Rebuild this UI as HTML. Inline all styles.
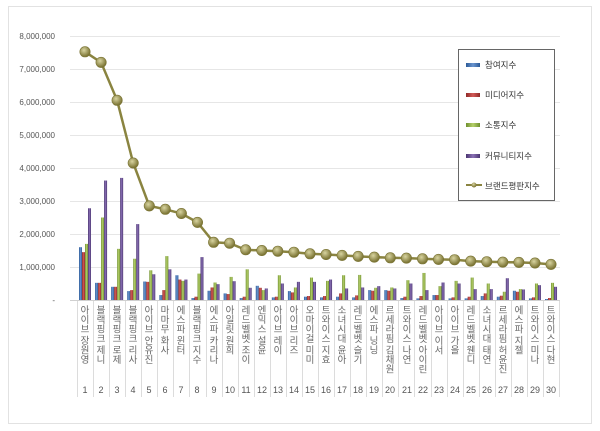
<!DOCTYPE html>
<html><head><meta charset="utf-8"><style>
body{margin:0;width:600px;height:431px;background:#fff;overflow:hidden;position:relative;font-family:"Liberation Sans","Noto Sans CJK KR",sans-serif}
.frame{position:absolute;left:8px;top:6px;width:584px;height:418px;border:1px solid #e2e2e2;box-sizing:border-box}
.lab{position:absolute;top:305px;writing-mode:vertical-rl;font-size:9.5px;color:#666;line-height:16px;width:16px;text-align:left;font-family:"Noto Sans CJK KR",sans-serif;white-space:nowrap}
</style></head><body>
<div class="frame"></div>
<svg id="s" width="600" height="431" style="position:absolute;left:0;top:0" xmlns="http://www.w3.org/2000/svg">
<defs>
<linearGradient id="gb" x1="0" x2="1"><stop offset="0" stop-color="#2c5a97"/><stop offset=".5" stop-color="#6a95cf"/><stop offset="1" stop-color="#2c5a97"/></linearGradient>
<linearGradient id="gr" x1="0" x2="1"><stop offset="0" stop-color="#8f2a28"/><stop offset=".5" stop-color="#d25a57"/><stop offset="1" stop-color="#8f2a28"/></linearGradient>
<linearGradient id="gg" x1="0" x2="1"><stop offset="0" stop-color="#6f8f2e"/><stop offset=".5" stop-color="#b5d06a"/><stop offset="1" stop-color="#6f8f2e"/></linearGradient>
<linearGradient id="gp" x1="0" x2="1"><stop offset="0" stop-color="#4a3570"/><stop offset=".5" stop-color="#8a70b5"/><stop offset="1" stop-color="#4a3570"/></linearGradient>
<radialGradient id="gd" cx=".4" cy=".35" r=".6"><stop offset="0" stop-color="#d8d4a0"/><stop offset="1" stop-color="#7d7636"/></radialGradient>
</defs>
<g font-size="8" fill="#555" text-anchor="end">
<text x="55" y="39">8,000,000</text>
<text x="55" y="72">7,000,000</text>
<text x="55" y="105">6,000,000</text>
<text x="55" y="138">5,000,000</text>
<text x="55" y="171">4,000,000</text>
<text x="55" y="204">3,000,000</text>
<text x="55" y="237">2,000,000</text>
<text x="55" y="270">1,000,000</text>
<text x="55" y="303">-</text>
</g>
<g stroke="#e6e6e6" stroke-width="1">
<line x1="70" x2="560" y1="36.5" y2="36.5"/><line x1="70" x2="560" y1="69.5" y2="69.5"/>
<line x1="70" x2="560" y1="102.5" y2="102.5"/><line x1="70" x2="560" y1="135.5" y2="135.5"/>
<line x1="70" x2="560" y1="168.5" y2="168.5"/><line x1="70" x2="560" y1="201.5" y2="201.5"/>
<line x1="70" x2="560" y1="234.5" y2="234.5"/><line x1="70" x2="560" y1="267.5" y2="267.5"/>
</g>
<g id="bars"></g>
<g id="seps" stroke="#dcdcdc"></g>
<g id="nums" font-size="9" fill="#555" text-anchor="middle">
<text x="85" y="393">1</text><text x="101" y="393">2</text><text x="117" y="393">3</text><text x="133" y="393">4</text><text x="149" y="393">5</text><text x="165" y="393">6</text><text x="181" y="393">7</text><text x="197" y="393">8</text><text x="214" y="393">9</text><text x="230" y="393">10</text><text x="246" y="393">11</text><text x="262" y="393">12</text><text x="278" y="393">13</text><text x="294" y="393">14</text><text x="310" y="393">15</text><text x="326" y="393">16</text><text x="342" y="393">17</text><text x="358" y="393">18</text><text x="374" y="393">19</text><text x="390" y="393">20</text><text x="407" y="393">21</text><text x="423" y="393">22</text><text x="439" y="393">23</text><text x="455" y="393">24</text><text x="471" y="393">25</text><text x="487" y="393">26</text><text x="503" y="393">27</text><text x="519" y="393">28</text><text x="535" y="393">29</text><text x="551" y="393">30</text>
</g>
<g id="line"></g>
<rect x="458.5" y="49.5" width="96" height="151" fill="#fff" stroke="#666"/>
<rect x="466" y="63" width="14" height="4" fill="url(#gb)"/>
<rect x="466" y="93" width="14" height="4" fill="url(#gr)"/>
<rect x="466" y="123" width="14" height="4" fill="url(#gg)"/>
<rect x="466" y="154" width="14" height="4" fill="url(#gp)"/>
<line x1="466" x2="482" y1="185" y2="185" stroke="#8a8440" stroke-width="2"/><circle cx="474" cy="185" r="2.5" fill="url(#gd)"/>
<g font-size="8.5" fill="#333" font-family="Noto Sans CJK KR,sans-serif">
<text x="485" y="68">참여지수</text><text x="485" y="98">미디어지수</text><text x="485" y="128">소통지수</text><text x="485" y="159">커뮤니티지수</text><text x="485" y="189">브랜드평판지수</text>
</g>
</svg>
<div class="lab" style="left:77px">아이브 장원영</div>
<div class="lab" style="left:93px">블랙핑크 제니</div>
<div class="lab" style="left:109px">블랙핑크 로제</div>
<div class="lab" style="left:125px">블랙핑크 리사</div>
<div class="lab" style="left:141px">아이브 안유진</div>
<div class="lab" style="left:157px">마마무 화사</div>
<div class="lab" style="left:173px">에스파 윈터</div>
<div class="lab" style="left:189px">블랙핑크 지수</div>
<div class="lab" style="left:206px">에스파 카리나</div>
<div class="lab" style="left:222px">아일릿 원희</div>
<div class="lab" style="left:238px">레드벨벳 조이</div>
<div class="lab" style="left:254px">엔믹스 설윤</div>
<div class="lab" style="left:270px">아이브 레이</div>
<div class="lab" style="left:286px">아이브 리즈</div>
<div class="lab" style="left:302px">오마이걸 미미</div>
<div class="lab" style="left:318px">트와이스 지효</div>
<div class="lab" style="left:334px">소녀시대 윤아</div>
<div class="lab" style="left:350px">레드벨벳 슬기</div>
<div class="lab" style="left:366px">에스파 닝닝</div>
<div class="lab" style="left:382px">르세라핌 김채원</div>
<div class="lab" style="left:399px">트와이스 나연</div>
<div class="lab" style="left:415px">레드벨벳 아이린</div>
<div class="lab" style="left:431px">아이브 이서</div>
<div class="lab" style="left:447px">아이브 가을</div>
<div class="lab" style="left:463px">레드벨벳 웬디</div>
<div class="lab" style="left:479px">소녀시대 태연</div>
<div class="lab" style="left:495px">르세라핌 허윤진</div>
<div class="lab" style="left:511px">에스파 지젤</div>
<div class="lab" style="left:527px">트와이스 미나</div>
<div class="lab" style="left:543px">트와이스 다현</div>
<script>
var d=[[1.6,1.45,1.7,2.78],[.52,.52,2.5,3.62],[.4,.4,1.55,3.7],[.27,.3,1.25,2.3],[.56,.55,.9,.78],[.15,.3,1.33,.93],[.75,.62,.58,.62],[.06,.1,.8,1.3],[.28,.38,.53,.48],[.2,.18,.7,.57],[.06,.1,.93,.37],[.43,.37,.3,.35],[.08,.1,.75,.5],[.27,.23,.38,.55],[.1,.12,.68,.55],[.08,.12,.58,.62],[.1,.2,.75,.35],[.08,.14,.76,.38],[.3,.28,.37,.42],[.3,.28,.38,.35],[.06,.1,.6,.5],[.05,.12,.82,.3],[.15,.15,.42,.53],[.05,.08,.58,.5],[.05,.1,.68,.33],[.12,.2,.5,.33],[.1,.13,.25,.66],[.28,.25,.33,.32],[.05,.08,.5,.45],[.03,.06,.52,.4]];
var L=[7.52,7.2,6.05,4.15,2.85,2.75,2.62,2.35,1.75,1.72,1.52,1.5,1.48,1.45,1.4,1.38,1.35,1.32,1.3,1.28,1.27,1.25,1.23,1.22,1.18,1.16,1.15,1.14,1.12,1.08];
var ns="http://www.w3.org/2000/svg",g=document.getElementById("bars"),sp=document.getElementById("seps"),ln=document.getElementById("line");
var f=["url(#gb)","url(#gr)","url(#gg)","url(#gp)"],pts=[];
function el(t,a,p){var e=document.createElementNS(ns,t);for(var k in a)e.setAttribute(k,a[k]);p.appendChild(e);return e;}
for(var i=0;i<30;i++){var x0=77+i*16.07,c=x0+8;
for(var j=0;j<4;j++){var h=d[i][j]*33;el("rect",{x:c-6+j*3,y:300-h,width:3,height:h,fill:f[j]},g);}
pts.push(c.toFixed(1)+","+(300-L[i]*33).toFixed(1));}
for(var i=0;i<=30;i++){var x=Math.round(77+i*16.07)+.5;el("line",{x1:x,x2:x,y1:300,y2:397},sp);}
el("line",{x1:70,x2:560,y1:300.5,y2:300.5,stroke:"#d0d0d0"},sp);
el("polyline",{points:pts.join(" "),fill:"none",stroke:"#8a8440","stroke-width":2.5},ln);
pts.forEach(function(p){var q=p.split(",");el("circle",{cx:q[0],cy:q[1],r:5.2,fill:"url(#gd)",stroke:"#7a7434","stroke-width":.6},ln);});
</script>
</body></html>
